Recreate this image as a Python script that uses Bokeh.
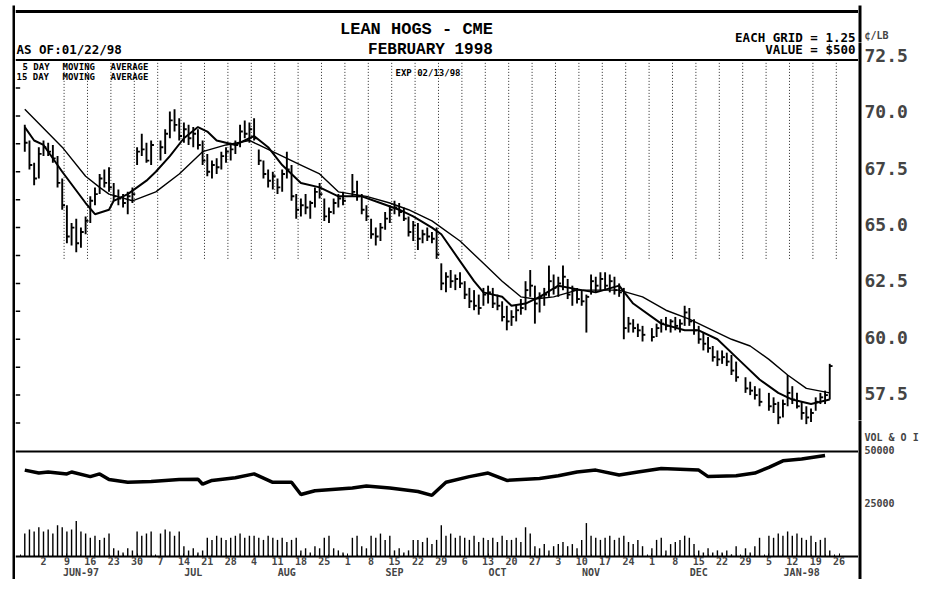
import numpy as np
from bokeh.plotting import figure
from bokeh.layouts import row, column
from bokeh.models import (Range1d, LinearAxis, FixedTicker, Span, Label, ColumnDataSource)
from bokeh.embed import file_html
from bokeh.resources import INLINE

# ---------------------------------------------------------------- data
# trading-day number: 0 = Mon 02-Jun-1997 (weekdays counted), first bar Tue 27-May-1997
first_day = -4
# None = exchange holiday (Jul 4, Sep 1, Nov 27, Dec 25, Jan 1)
high = [69.6, 68.9, 67.9, 68.6,
        68.9, 68.8, 68.7, 68.2, 67.2,
        66.0, 65.2, 65.4, 65.0, 65.5,
        66.4, 66.8, 67.4, 67.6, 67.7,
        67.0, 66.7, 66.5, 66.6, 66.8,
        68.6, 69.2, 68.8, 68.9, None,
        68.9, 69.4, 70.2, 70.3, 69.9,
        69.7, 69.6, 69.5, 69.4, 68.9,
        68.3, 68.0, 68.1, 68.4, 68.6,
        68.8, 68.9, 69.6, 69.8, 69.7,
        69.9, 68.5, 68.0, 67.6, 67.5,
        67.2, 67.6, 68.4, 67.8, 66.5,
        66.3, 66.5, 66.2, 66.8, 67.0,
        66.3, 65.9, 66.3, 66.5, 66.6,
        None, 67.4, 67.1, 66.5, 66.0,
        65.4, 65.0, 65.2, 65.7, 66.0,
        66.2, 66.1, 65.9, 65.5, 65.3,
        65.2, 64.9, 65.0, 64.8, 65.0,
        63.4, 63.0, 63.1, 62.9, 63.0,
        62.6, 62.3, 62.2, 62.0, 62.3,
        62.4, 62.3, 62.0, 61.7, 61.5,
        61.3, 61.5, 61.8, 62.6, 63.1,
        62.4, 62.1, 62.3, 63.3, 62.9,
        62.8, 63.3, 62.7, 62.4, 62.3,
        62.2, 62.0, 62.9, 62.8, 63.0,
        63.0, 62.9, 62.8, 62.5, 62.3,
        61.0, 60.9, 60.7, 60.6, None,
        60.5, 60.7, 60.9, 61.0, 60.9,
        61.0, 60.9, 61.5, 61.4, 60.9,
        60.6, 60.3, 60.1, 59.7, 59.5,
        59.5, 59.4, 59.3, 59.0, None,
        58.3, 58.1, 57.9, 57.8, None,
        57.6, 57.4, 57.2, 57.3, 58.4,
        57.9, 57.6, 57.2, 57.0, 56.9,
        57.4, 57.6, 57.7, 58.9]
low = [68.4, 67.6, 66.9, 67.2,
       68.2, 68.2, 67.9, 66.8, 65.8,
       64.3, 64.2, 63.9, 64.1, 64.7,
       65.2, 66.0, 66.5, 66.8, 66.6,
       66.2, 66.0, 65.9, 65.6, 66.1,
       67.8, 68.2, 67.9, 67.8, None,
       68.0, 68.3, 69.0, 69.3, 68.9,
       68.8, 68.7, 68.6, 68.5, 67.8,
       67.3, 67.2, 67.4, 67.6, 67.9,
       68.0, 68.3, 68.6, 69.0, 68.8,
       68.9, 67.8, 67.2, 66.8, 66.7,
       66.5, 66.6, 67.2, 66.2, 65.4,
       65.5, 65.6, 65.4, 65.9, 66.3,
       65.3, 65.2, 65.6, 65.9, 66.0,
       None, 66.4, 66.2, 65.6, 65.3,
       64.5, 64.2, 64.4, 64.9, 65.2,
       65.6, 65.5, 65.3, 64.6, 64.4,
       64.0, 64.3, 64.4, 64.3, 63.6,
       62.2, 62.1, 62.3, 62.2, 62.3,
       61.8, 61.4, 61.3, 61.1, 61.5,
       61.6, 61.4, 61.3, 60.8, 60.4,
       60.6, 60.8, 61.1, 61.3, 61.9,
       60.7, 61.2, 61.5, 61.9, 62.0,
       61.9, 62.2, 61.8, 61.5, 61.6,
       61.5, 60.3, 62.0, 62.1, 62.2,
       62.2, 62.1, 62.0, 61.9, 60.0,
       60.3, 60.3, 60.1, 59.9, None,
       59.9, 60.1, 60.3, 60.4, 60.3,
       60.4, 60.3, 60.6, 60.6, 60.2,
       59.8, 59.5, 59.4, 59.0, 58.8,
       58.9, 58.8, 58.4, 58.1, None,
       57.6, 57.5, 57.3, 57.0, None,
       56.8, 56.7, 56.2, 56.5, 57.0,
       57.1, 56.9, 56.4, 56.2, 56.3,
       56.8, 57.1, 57.1, 57.3]
close = [68.8, 67.8, 67.2, 68.3,
         68.6, 68.4, 68.1, 67.0, 66.0,
         64.6, 65.0, 64.3, 64.8, 65.3,
         66.2, 66.5, 67.2, 67.0, 66.8,
         66.4, 66.3, 66.1, 66.4, 66.5,
         68.4, 68.5, 68.0, 68.7, None,
         68.6, 69.2, 69.8, 69.6, 69.1,
         69.4, 69.0, 69.2, 68.7, 68.0,
         67.5, 67.8, 67.7, 68.2, 68.4,
         68.5, 68.7, 69.3, 69.2, 69.4,
         69.0, 68.0, 67.4, 67.1, 67.3,
         66.8, 67.4, 67.6, 66.4, 65.8,
         66.0, 65.9, 66.1, 66.6, 66.5,
         65.5, 65.7, 66.1, 66.3, 66.2,
         None, 66.6, 66.4, 65.8, 65.5,
         64.7, 64.6, 65.0, 65.4, 65.8,
         65.9, 65.7, 65.4, 64.8, 65.1,
         64.5, 64.7, 64.6, 64.5, 63.8,
         62.5, 62.8, 62.6, 62.7, 62.5,
         62.0, 61.7, 61.5, 61.4, 62.0,
         62.1, 61.6, 61.5, 61.0, 60.8,
         61.0, 61.3, 61.4, 62.2, 62.4,
         61.6, 61.9, 62.0, 62.6, 62.3,
         62.5, 62.8, 62.0, 62.2, 61.8,
         61.7, 61.9, 62.6, 62.4, 62.7,
         62.4, 62.6, 62.2, 62.1, 60.5,
         60.7, 60.5, 60.4, 60.2, None,
         60.1, 60.5, 60.7, 60.6, 60.8,
         60.6, 60.7, 61.2, 60.8, 60.4,
         60.0, 59.8, 59.6, 59.2, 59.1,
         59.2, 59.0, 58.6, 58.3, None,
         57.8, 57.7, 57.5, 57.2, None,
         57.0, 57.1, 56.5, 57.1, 57.6,
         57.3, 57.0, 56.7, 56.5, 56.7,
         57.2, 57.4, 57.5, 58.8]
# daily volume, thousands of contracts
volume_k = [11, 13, 12, 14,
            12, 13, 11, 15, 14,
            12, 13, 17, 12, 11,
            9, 10, 8, 9, 11,
            4, 3, 2, 4, 3,
            12, 10, 11, 12, None,
            11, 13, 12, 10, 12,
            5, 3, 4, 2, 3,
            9, 8, 10, 9, 8,
            9, 10, 11, 9, 10,
            10, 9, 8, 10, 9,
            8, 9, 7, 8, 9,
            3, 4, 2, 5, 4,
            9, 10, 4, 3, 2,
            None, 9, 10, 5, 4,
            10, 9, 11, 8, 10,
            3, 4, 2, 3, 8,
            8, 7, 9, 6, 8,
            15, 10, 11, 9, 10,
            9, 8, 10, 7, 9,
            8, 9, 7, 10, 8,
            8, 9, 7, 14, 11,
            5, 4, 6, 3, 5,
            6, 7, 5, 6, 4,
            8, 16, 10, 9, 8,
            9, 10, 8, 9, 10,
            7, 6, 8, 5, None,
            4, 8, 9, 3, 6,
            7, 8, 10, 9, 6,
            3, 2, 4, 2, 3,
            2, 3, 1, 5, None,
            4, 2, 5, 9, None,
            10, 9, 11, 10, 12,
            10, 11, 9, 8, 10,
            7, 8, 9, 3]
# open interest (contracts), read at these trading days
oi_day = [-4, -1, 1, 5, 6, 10, 12, 14, 18, 23,
          29, 33, 34, 36, 41, 45, 49, 53, 55, 58,
          66, 69, 74, 80, 83, 86, 91, 95, 99, 106,
          110, 114, 118, 123, 127, 132, 140, 142, 148, 152,
          155, 158, 162, 167]
open_interest = [41200, 39800, 40300, 39400, 40300, 38100, 39400, 36700, 35400, 35800,
                 36700, 36900, 34500, 36300, 37600, 39400, 35400, 35400, 29600, 31400,
                 32700, 33600, 32700, 31000, 29200, 35400, 38100, 39800, 36300, 37200,
                 38500, 40300, 41200, 38900, 40300, 42000, 41200, 38100, 38500, 39800,
                 42500, 45600, 46500, 48200]
# moving averages (cents/lb) read at these trading days
ma5_day = [-4, -2, 0, 4, 9, 11, 14, 15, 18, 22, 24, 27, 30, 33, 35, 37, 41, 44, 45, 48,
           51, 55, 59, 63, 68, 72, 76, 79, 83, 85, 89, 92, 94, 98, 100, 103, 106, 110,
           115, 118, 123, 126, 132, 137, 140, 144, 149, 153, 157, 160, 164, 168]
ma5 = [69.5, 68.9, 68.7, 67.5, 66.1, 65.6, 65.8, 66.2, 66.5, 67.1, 67.5, 68.2, 69.0, 69.5,
       69.3, 68.9, 68.7, 69.0, 69.1, 68.6, 67.8, 67.0, 66.8, 66.4, 66.4, 66.1, 65.8, 65.5,
       65.0, 64.7, 63.5, 62.6, 62.1, 61.9, 61.5, 61.6, 61.9, 62.4, 62.2, 62.1, 62.4, 61.6,
       60.7, 60.4, 60.4, 60.0, 59.0, 58.2, 57.6, 57.3, 57.1, 57.3]
ma15_day = [-4, 4, 9, 12, 14, 19, 24, 29, 34, 39, 44, 46, 55, 59, 63, 69, 74, 78, 83,
            89, 94, 98, 102, 105, 109, 114, 119, 123, 128, 133, 138, 143, 147, 151,
            155, 159, 163, 168]
ma15 = [70.3, 68.6, 67.3, 66.8, 66.5, 66.2, 66.6, 67.4, 68.4, 68.7, 68.9, 68.7, 67.8,
        67.4, 66.6, 66.4, 66.1, 65.8, 65.3, 64.4, 63.4, 62.6, 61.9, 61.8, 61.9, 62.2,
        62.2, 62.2, 61.9, 61.3, 60.9, 60.4, 60.0, 59.7, 59.1, 58.4, 57.8, 57.6]
# axis texts
week_labels = ["2", "9", "16", "23", "30", "7", "14", "21", "28", "4", "11", "18", "25",
               "1", "8", "15", "22", "29", "6", "13", "20", "27", "3", "10", "17", "24",
               "1", "8", "15", "22", "29", "5", "12", "19", "26"]
month_labels = ["JUN-97", "JUL", "AUG", "SEP", "OCT", "NOV", "DEC", "JAN-98"]
price_ticks = [57.5, 60.0, 62.5, 65.0, 67.5, 70.0, 72.5]
vol_ticks = [25000, 50000]

# ---------------------------------------------------------------- layout
TOTAL_W, FIG_H = 923, 579
BORDER_T = 5                             # top of the outer frame lines
FRAME_L, FRAME_R = 15, 858               # chart area between the side borders
STRIP = 3                                # thickness of the black side borders
L_W = FRAME_L
M_W = FRAME_R - FRAME_L
R_W = TOTAL_W - L_W - M_W
X_DAY0, PX_PER_DAY = 43.0, 4.68          # px of trading day 0, px per day
Y_575, PX_PER_CENT = 393.0, 22.53        # px of 57.5 c/lb, px per cent
Y_VOL50K, Y_AXIS = 450.0, 556.0          # px of 50000 (panel divider) and of 0
PX_PER_VOL = (Y_AXIS - Y_VOL50K) / 50000


def d_at(px):
    return (px - X_DAY0) / PX_PER_DAY


def price_at(py):
    return 57.5 + (Y_575 - py) / PX_PER_CENT


def vol_at(py):
    return (Y_AXIS - py) / PX_PER_VOL


MONO = "DejaVu Sans Mono"
SERIF_MONO = "Liberation Mono"

# ---- main chart (frame covers the whole middle column)
p = figure(width=M_W, height=FIG_H, output_backend="svg", toolbar_location=None,
           x_range=Range1d(d_at(FRAME_L), d_at(FRAME_R)),
           y_range=Range1d(price_at(FIG_H), price_at(0)),
           y_axis_location=None,
           min_border_left=0, min_border_right=0, min_border_top=0, min_border_bottom=0,
           background_fill_color="white", border_fill_color="white")
p.extra_y_ranges = {"vol": Range1d(vol_at(FIG_H), vol_at(0))}
p.xgrid.visible = False
p.ygrid.visible = False
p.outline_line_color = None

days = np.arange(first_day, first_day + len(high))
hi = np.array(high, dtype=float)
lo = np.array(low, dtype=float)
cl = np.array(close, dtype=float)
vol = np.array(volume_k, dtype=float) * 1000
src = ColumnDataSource(dict(d=days, hi=hi, lo=lo, cl=cl, cend=days + 0.6, vol=vol))

# weekly dotted grid in the upper price area
week_ticks = [5 * i for i in range(len(week_labels))]
wk = np.array(week_ticks[1:], dtype=float) - 0.6
p.segment(x0=wk, y0=63.6, x1=wk, y1=72.5, line_color="black", line_width=1,
          line_dash="1 2", line_alpha=0.85)

# grid ticks (1.25 c) on the left border
grid_levels = np.arange(56.25, 72.4, 1.25)
x_left = d_at(FRAME_L)
p.segment(x0=x_left, y0=grid_levels, x1=x_left + 1.0, y1=grid_levels,
          line_color="black", line_width=1.5)

# outer top line, header rule, panel divider
p.add_layout(Span(location=price_at(BORDER_T + 1), dimension="width",
                  line_color="black", line_width=3))
p.add_layout(Span(location=72.5, dimension="width", line_color="black", line_width=2))
p.add_layout(Span(location=vol_ticks[-1], y_range_name="vol", dimension="width",
                  line_color="black", line_width=2))

# price bars
p.segment(x0="d", y0="lo", x1="d", y1="hi", source=src, line_color="black", line_width=1.9)
p.segment(x0="d", y0="cl", x1="cend", y1="cl", source=src, line_color="black", line_width=1.9)

# moving averages
p.line(ma15_day, ma15, line_color="black", line_width=1.4)
p.line(ma5_day, ma5, line_color="black", line_width=2.0)

# volume & open interest
p.segment(x0="d", y0=0, x1="d", y1="vol", source=src, y_range_name="vol",
          line_color="black", line_width=1.4)
p.line(oi_day, open_interest, y_range_name="vol", line_color="black", line_width=3.5)

# date axis drawn at the zero-volume line; month names on a second axis under it
xa = p.xaxis[0]
xa.y_range_name = "vol"
xa.fixed_location = 0
xa.ticker = FixedTicker(ticks=week_ticks, minor_ticks=list(range(-5, 171)))
xa.major_label_overrides = {t: s for t, s in zip(week_ticks, week_labels)}
xa.major_label_text_font = MONO
xa.major_label_text_font_style = "bold"
xa.major_label_text_font_size = "10px"
xa.major_label_standoff = 0
xa.major_tick_in = 3
xa.major_tick_out = 0
xa.minor_tick_in = 2
xa.minor_tick_out = 0
xa.axis_line_width = 2

month_ticks = [8, 32, 52, 75, 97, 117, 140, 162]
mx = LinearAxis(ticker=FixedTicker(ticks=month_ticks, minor_ticks=[]),
                y_range_name="vol", fixed_location=0)
mx.major_label_overrides = {t: s for t, s in zip(month_ticks, month_labels)}
mx.major_label_text_font = MONO
mx.major_label_text_font_style = "bold"
mx.major_label_text_font_size = "10px"
mx.major_label_standoff = 10
mx.major_tick_in = 0
mx.major_tick_out = 0
mx.minor_tick_in = 0
mx.minor_tick_out = 0
mx.axis_line_color = None
p.add_layout(mx, "below")


def add_text(text, px, py, size, align="left", font=MONO):
    p.add_layout(Label(x=d_at(px), y=price_at(py), text=text,
                       text_font=font, text_font_size=f"{size}px", text_font_style="bold",
                       text_align=align, text_baseline="middle", text_color="black"))


# header
add_text("LEAN HOGS - CME", 416, 24, 17, "center", SERIF_MONO)
add_text("FEBRUARY 1998", 430, 45, 16, "center", SERIF_MONO)
add_text("AS OF:01/22/98", 16, 44, 12.5)
add_text("EACH GRID = 1.25", 855, 32, 12.5, "right")
add_text("VALUE = $500", 855, 44, 12.5, "right")
# moving-average legend and expiry
add_text("5 DAY", 22, 62, 9)
add_text("15 DAY", 16, 72, 9)
add_text("MOVING", 62, 62, 9)
add_text("MOVING", 62, 72, 9)
add_text("AVERAGE", 110, 62, 9)
add_text("AVERAGE", 110, 72, 9)
add_text("EXP 02/13/98", 395, 68, 9)


# ---- left border strip
def left_strip():
    s = figure(width=L_W, height=FIG_H, output_backend="svg", toolbar_location=None,
               x_range=Range1d(0, 1), y_range=Range1d(0, 1),
               x_axis_location=None, y_axis_location=None,
               min_border_left=L_W - STRIP, min_border_right=0,
               min_border_top=BORDER_T, min_border_bottom=0,
               background_fill_color="black", border_fill_color="white")
    s.outline_line_color = None
    s.grid.visible = False
    return s


# ---- right border strips carrying the scales
def right_strip(top_px, bottom_px, yrange, ticks, labels, size, pad_top=0):
    s = figure(width=R_W, height=bottom_px - top_px, output_backend="svg",
               toolbar_location=None, x_range=Range1d(0, 1), y_range=yrange,
               x_axis_location=None, y_axis_location="right",
               min_border_left=0, min_border_right=R_W - STRIP,
               min_border_top=pad_top, min_border_bottom=0,
               background_fill_color="black", border_fill_color="white")
    s.outline_line_color = None
    s.grid.visible = False
    ax = s.yaxis[0]
    ax.ticker = FixedTicker(ticks=ticks, minor_ticks=[])
    ax.major_label_overrides = {t: lab for t, lab in zip(ticks, labels)}
    ax.major_label_text_font = MONO
    ax.major_label_text_font_style = "bold"
    ax.major_label_text_font_size = f"{size}px"
    ax.major_label_standoff = 3
    ax.major_tick_in = 0
    ax.major_tick_out = 0
    ax.axis_line_color = None
    return s


R1_B, R2_B = 42, 420
unit_tick = 73.4                           # level of the unit caption
r1 = right_strip(0, R1_B, Range1d(price_at(R1_B), price_at(BORDER_T)),
                 [unit_tick], ["\u00a2/LB"], 10, pad_top=BORDER_T)
r2 = right_strip(R1_B, R2_B, Range1d(price_at(R2_B), price_at(R1_B)),
                 price_ticks, [f"{t:.1f}" for t in price_ticks], 18)
caption_tick = 56000                       # level of the lower-panel caption
r3 = right_strip(R2_B, FIG_H, Range1d(vol_at(FIG_H), vol_at(R2_B)),
                 vol_ticks + [caption_tick],
                 [str(v) for v in vol_ticks] + ["VOL & O I"], 10)

layout = row(left_strip(), p, column(r1, r2, r3, spacing=0), spacing=0)

open("out.html", "w").write(file_html(layout, INLINE))
